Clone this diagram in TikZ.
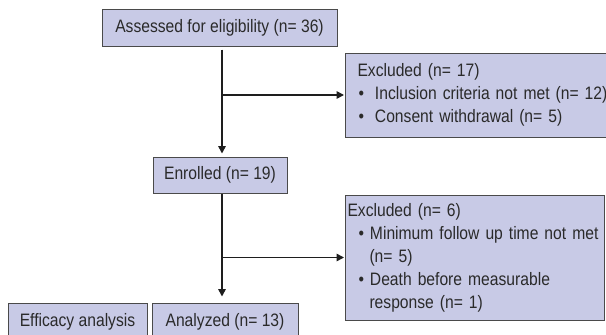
\documentclass[tikz,border=0pt]{standalone}
\usepackage{fontspec}
\setmainfont{Liberation Sans}[FakeStretch=0.87]
\usetikzlibrary{arrows.meta,calc}
\definecolor{boxfill}{HTML}{C8CAE6}
\definecolor{boxline}{HTML}{4A4A4A}
\definecolor{txt}{HTML}{2A2A2A}
\definecolor{conn}{HTML}{1E1E1E}
\tikzset{
  flowbox/.style={draw=boxline, fill=boxfill, line width=1pt, rectangle,
    inner sep=0pt, text=txt, font=\fontsize{18}{23}\selectfont},
  conn/.style={draw=conn, line width=1.6pt,
    -{Triangle[length=7.5pt,width=7.5pt]}}
}
\begin{document}
\begin{tikzpicture}[x=1pt,y=-1pt]
\clip (0,0) rectangle (606,335);
\fill[white] (0,0) rectangle (606,335);

\node[flowbox, minimum width=235pt, minimum height=37pt] (assess) at (219.5,27.5) {Assessed for eligibility (n= 36)};

\node[flowbox, anchor=west, minimum width=285pt, minimum height=84pt,
      text width=273pt, align=left, inner xsep=12pt] (excl1) at (345,95)
  {\mbox{Excluded (n= 17)}\\
   \mbox{\hspace*{1pt}\textbullet\hspace{11pt}Inclusion criteria not met (n= 12)}\\
   \mbox{\hspace*{1pt}\textbullet\hspace{11pt}Consent withdrawal (n= 5)}};

\node[flowbox, minimum width=134pt, minimum height=36pt] (enrol) at (220,175) {Enrolled (n= 19)};

\node[flowbox, anchor=west, minimum width=259pt, minimum height=125pt,
      text width=255pt, align=left, inner xsep=2pt] (excl2) at (345,257.5)
  {\mbox{Excluded (n= 6)}\\
   \mbox{\hspace*{11pt}\textbullet\ Minimum follow up time not met}\\
   \mbox{\hspace*{22pt}(n= 5)}\\
   \mbox{\hspace*{11pt}\textbullet\ Death before measurable}\\
   \mbox{\hspace*{22pt}response (n= 1)}};

\node[flowbox, minimum width=139pt, minimum height=38pt] (effic) at (77.5,322) {Efficacy analysis};
\node[flowbox, minimum width=146pt, minimum height=38pt] (anal) at (225,322) {Analyzed (n= 13)};

\coordinate (spine) at (222,0);

\draw[conn, shorten <=3pt, shorten >=3pt] (assess.south -| spine) -- (enrol.north -| spine);
\draw[conn, shorten >=1pt] (excl1.west -| spine) -- (excl1.west);
\draw[conn, shorten >=6pt] (enrol.south -| spine) -- (anal.north -| spine);
\draw[conn, shorten >=1pt] (excl2.west -| spine) -- (excl2.west);
\end{tikzpicture}
\end{document}
